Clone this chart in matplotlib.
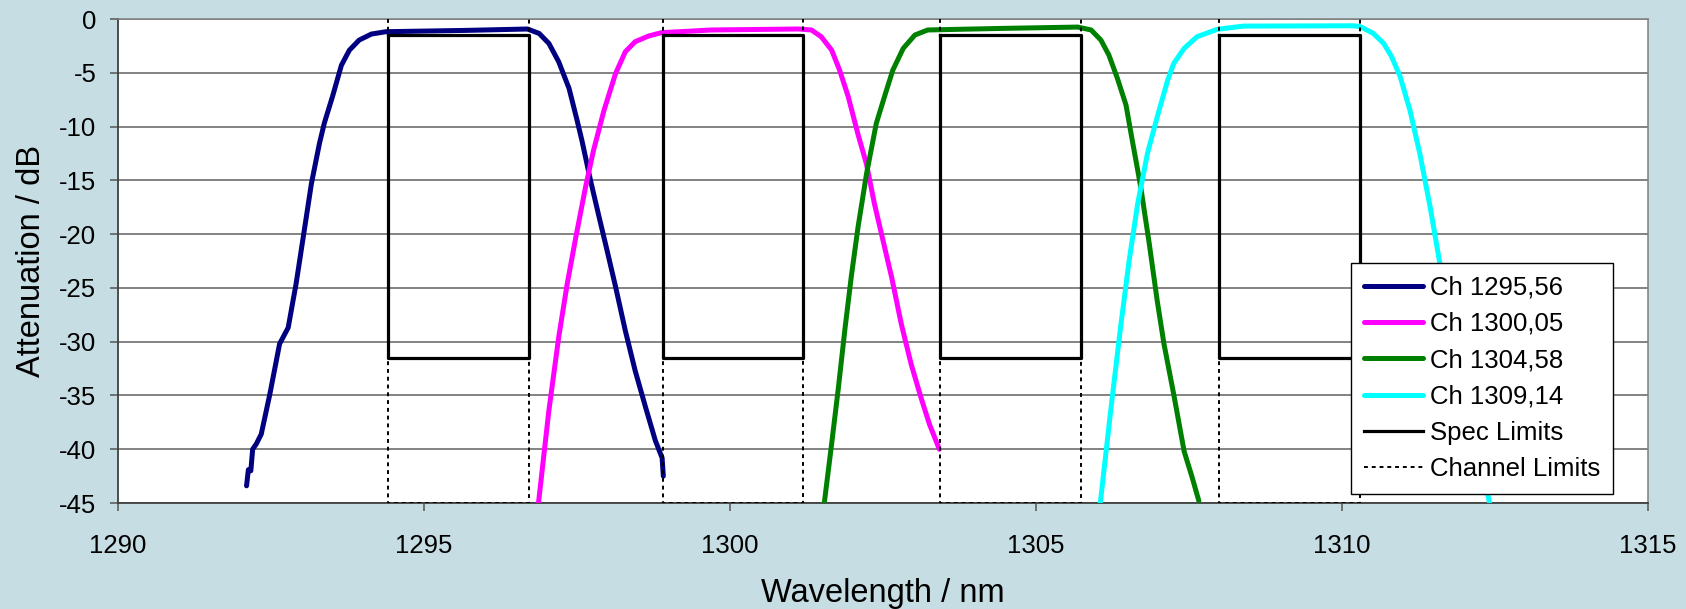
import numpy as np
import matplotlib.pyplot as plt

plt.rcParams['font.family'] = ['Liberation Sans', 'DejaVu Sans']
plt.rcParams['axes.unicode_minus'] = False

ch1_wl = [1292.10, 1292.13, 1292.17, 1292.20, 1292.26, 1292.34, 1292.48, 1292.64, 1292.78,
          1292.91, 1293.05, 1293.16, 1293.29, 1293.37, 1293.51, 1293.65, 1293.78, 1293.94,
          1294.14, 1294.38, 1295.68, 1296.69, 1296.88, 1297.04, 1297.20, 1297.37, 1297.50,
          1297.58, 1297.72, 1297.86, 1297.99, 1298.13, 1298.29, 1298.45, 1298.62, 1298.78,
          1298.89, 1298.91]
ch1_att = [-43.4, -41.9, -42.0, -40.0, -39.5, -38.6, -34.9, -30.2, -28.7,
           -24.6, -19.4, -15.3, -11.6, -9.7, -7.1, -4.3, -2.9, -1.96,
           -1.40, -1.18, -1.06, -0.93, -1.34, -2.27, -3.97, -6.46, -9.4,
           -11.3, -15.0, -18.4, -21.5, -24.9, -29.0, -32.7, -36.1, -39.2,
           -40.8, -42.5]

ch2_wl = [1296.87, 1297.04, 1297.20, 1297.34, 1297.48, 1297.64, 1297.77, 1297.94, 1298.13,
          1298.29, 1298.45, 1298.67, 1298.88, 1299.70, 1301.12, 1301.33, 1301.49, 1301.66,
          1301.79, 1301.93, 1302.09, 1302.23, 1302.36, 1302.50, 1302.64, 1302.80, 1302.96,
          1303.12, 1303.26, 1303.42]
ch2_att = [-45.0, -36.4, -29.6, -24.6, -20.3, -15.6, -12.2, -8.5, -5.06,
           -3.04, -2.11, -1.58, -1.27, -1.02, -0.93, -1.02, -1.65, -2.89,
           -4.75, -7.2, -10.7, -13.5, -17.2, -20.6, -24.0, -28.4, -32.1,
           -35.2, -37.7, -40.0]

ch3_wl = [1301.54, 1301.66, 1301.77, 1301.88, 1301.98, 1302.09, 1302.23, 1302.39, 1302.53,
          1302.66, 1302.83, 1303.02, 1303.23, 1304.48, 1305.68, 1305.90, 1306.06, 1306.19,
          1306.33, 1306.47, 1306.56, 1306.71, 1306.85, 1306.98, 1307.09, 1307.25, 1307.42,
          1307.55, 1307.66]
ch3_att = [-45.0, -39.5, -34.3, -28.7, -24.0, -19.4, -14.4, -9.7, -7.1,
           -4.75, -2.73, -1.49, -1.02, -0.87, -0.75, -1.02, -1.96, -3.35,
           -5.53, -8.0, -10.9, -15.6, -20.9, -26.2, -30.2, -34.9, -40.2,
           -42.6, -44.8]

ch4_wl = [1306.05, 1306.22, 1306.38, 1306.52, 1306.66, 1306.82, 1306.98, 1307.15, 1307.25,
          1307.42, 1307.63, 1307.96, 1308.39, 1310.19, 1310.30, 1310.51, 1310.68, 1310.81,
          1310.95, 1311.11, 1311.27, 1311.44, 1311.60, 1311.80, 1312.00, 1312.20, 1312.41]
ch4_att = [-45.0, -36.4, -28.7, -22.5, -17.2, -12.5, -9.1, -5.7, -4.13,
           -2.73, -1.65, -0.96, -0.66, -0.63, -0.71, -1.34, -2.27, -3.51,
           -5.37, -8.5, -12.5, -17.5, -22.8, -28.0, -33.5, -39.2, -45.0]

ch_labels = ['Ch 1295,56', 'Ch 1300,05', 'Ch 1304,58', 'Ch 1309,14']
ch_colors = ['#000080', '#FF00FF', '#008000', '#00FFFF']

# channel edges (nm) and spec mask levels (dB)
chan_lo = [1294.41, 1298.90, 1303.43, 1307.99]
chan_hi = [1296.71, 1301.20, 1305.73, 1310.29]
spec_top = -1.5
spec_bottom = -31.5
chan_top = 0
chan_bottom = -45

bg = '#C6DDE3'
fig = plt.figure(figsize=(16.86, 6.09), dpi=100, facecolor=bg)
ax = fig.add_axes([0.0700, 0.174, 0.9075, 0.7948])
ax.set_facecolor('white')

curves = [(ch1_wl, ch1_att), (ch2_wl, ch2_att), (ch3_wl, ch3_att), (ch4_wl, ch4_att)]
for (wl, att), lab, col in zip(curves, ch_labels, ch_colors):
    ax.plot(wl, att, color=col, lw=3.6, label=lab, solid_capstyle='round',
            solid_joinstyle='round', zorder=3)

# spec limit boxes as one series, broken with NaN
sx, sy = [], []
for lo, hi in zip(chan_lo, chan_hi):
    sx += [lo, lo, hi, hi, lo, np.nan]
    sy += [spec_top, spec_bottom, spec_bottom, spec_top, spec_top, np.nan]
ax.plot(sx, sy, color='black', lw=2.3, label='Spec Limits', zorder=4)

cx, cy = [], []
for lo, hi in zip(chan_lo, chan_hi):
    cx += [lo, lo, hi, hi, np.nan]
    cy += [chan_top, chan_bottom, chan_bottom, chan_top, np.nan]
ax.plot(cx, cy, color='black', lw=1.4, ls=(0, (2, 2)), label='Channel Limits', zorder=4)

ax.set_xlim(1290, 1315)
ax.set_ylim(-45, 0)
ax.set_xticks(np.arange(1290, 1316, 5))
ax.set_yticks(np.arange(-45, 1, 5))
ax.yaxis.grid(True, color='#606060', lw=1.1)
ax.set_axisbelow(True)

for s in ['left', 'bottom']:
    ax.spines[s].set_color('#404040')
    ax.spines[s].set_linewidth(1.3)
for s in ['top', 'right']:
    ax.spines[s].set_color('#808080')
    ax.spines[s].set_linewidth(1.1)

ax.tick_params(axis='both', direction='out', length=6, width=1.2, color='#606060',
               labelsize=18.5)
ax.tick_params(axis='x', pad=16)
ax.tick_params(axis='y', pad=9.5)

ax.set_xlabel('Wavelength / nm', fontsize=23.5, labelpad=15)
ax.set_ylabel('Attenuation / dB', fontsize=23.5, labelpad=9)

leg = ax.legend(loc='lower left', bbox_to_anchor=(0.806, 0.0186), fontsize=18.5,
                frameon=True, fancybox=False, framealpha=1, edgecolor='black',
                handlelength=2.3, handletextpad=0.25, labelspacing=0.48,
                borderpad=0.5, borderaxespad=0)
leg.get_frame().set_linewidth(1.0)

fig.savefig('out.png', dpi=100, facecolor=bg)
